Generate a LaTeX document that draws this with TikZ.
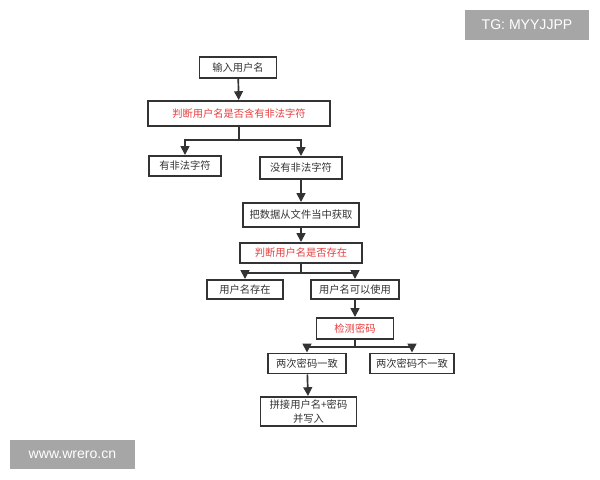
\documentclass[tikz,border=0pt]{standalone}
\usepackage{fontspec}
\setmainfont{Noto Sans CJK SC}
\newfontfamily\markfont{Liberation Sans}
\usetikzlibrary{positioning,arrows.meta}
\definecolor{FlowGray}{RGB}{51,51,51}
\definecolor{CheckRed}{RGB}{232,62,62}
\definecolor{MarkGray}{RGB}{166,166,166}
\tikzset{
  flow/.style={-{Triangle[length=2.2mm,width=2.2mm]},line width=1.2pt,draw=FlowGray},
  link/.style={line width=1.2pt,draw=FlowGray},
  box/.style={draw=FlowGray,line width=1.4pt,fill=white,minimum height=0.5cm,
    align=center,font=\fontsize{7.3}{10}\selectfont,text=FlowGray,inner sep=1pt},
  checkbox/.style={box,text=CheckRed},
  markbox/.style={fill=MarkGray,text=white,font=\markfont\fontsize{10}{12}\selectfont,
    minimum height=0.725cm,inner sep=2pt}
}
\begin{document}
\begin{tikzpicture}[x=0.025cm,y=-0.025cm]
  \useasboundingbox (0,0) rectangle (600,480);
  \node[box,minimum width=1.925cm,minimum height=0.525cm] (input) at (238,67.5) {输入用户名};
  \node[checkbox,minimum width=4.55cm,minimum height=0.625cm] (illegal) at (239,113.5) {判断用户名是否含有非法字符};
  \node[box,minimum width=1.8cm,minimum height=0.5cm] (hasbad) at (185,166) {有非法字符};
  \node[box,minimum width=2.05cm,minimum height=0.55cm] (nobad) at (301,168) {没有非法字符};
  \node[box,minimum width=2.9cm,minimum height=0.6cm] (load) at (301,215) {把数据从文件当中获取};
  \node[checkbox,minimum width=3.05cm,minimum height=0.5cm] (exists) at (301,253) {判断用户名是否存在};
  \node[box,minimum width=1.9cm,minimum height=0.475cm] (taken) at (245,289.5) {用户名存在};
  \node[box,minimum width=2.2cm,minimum height=0.475cm] (free) at (355,289.5) {用户名可以使用};
  \node[checkbox,minimum width=1.925cm,minimum height=0.525cm] (pwd) at (355,328.5) {检测密码};
  \node[box,minimum width=1.95cm,minimum height=0.5cm] (same) at (307,363.5) {两次密码一致};
  \node[box,minimum width=2.1cm,minimum height=0.5cm] (diff) at (412,363.5) {两次密码不一致};
  \node[box,minimum width=2.4cm,minimum height=0.725cm] (save) at (308.5,411.5) {拼接用户名+密码\\并写入};

  \draw[flow] (input) -- (illegal);
  \draw[link] (illegal.south) -- ++(0,13) coordinate (fork1);
  \draw[flow] (fork1) -| (hasbad.north);
  \draw[flow] (fork1) -| (nobad.north);
  \draw[flow] (nobad) -- (load);
  \draw[flow] (load) -- (exists);
  \draw[link] (exists.south) -- ++(0,9) coordinate (fork2);
  \draw[flow] (fork2) -| (taken.north);
  \draw[flow] (fork2) -| (free.north);
  \draw[flow] (free) -- (pwd);
  \draw[link] (pwd.south) -- ++(0,7) coordinate (fork3);
  \draw[flow] (fork3) -| (same.north);
  \draw[flow] (fork3) -| (diff.north);
  \draw[flow] (same) -- (save);

  % watermarks
  \node[markbox,minimum width=3.1cm] (tg) at (527,25) {TG: MYYJJPP};
  \node[markbox,minimum width=3.125cm] (site) at (72.5,454.5) {www.wrero.cn};
\end{tikzpicture}
\end{document}
